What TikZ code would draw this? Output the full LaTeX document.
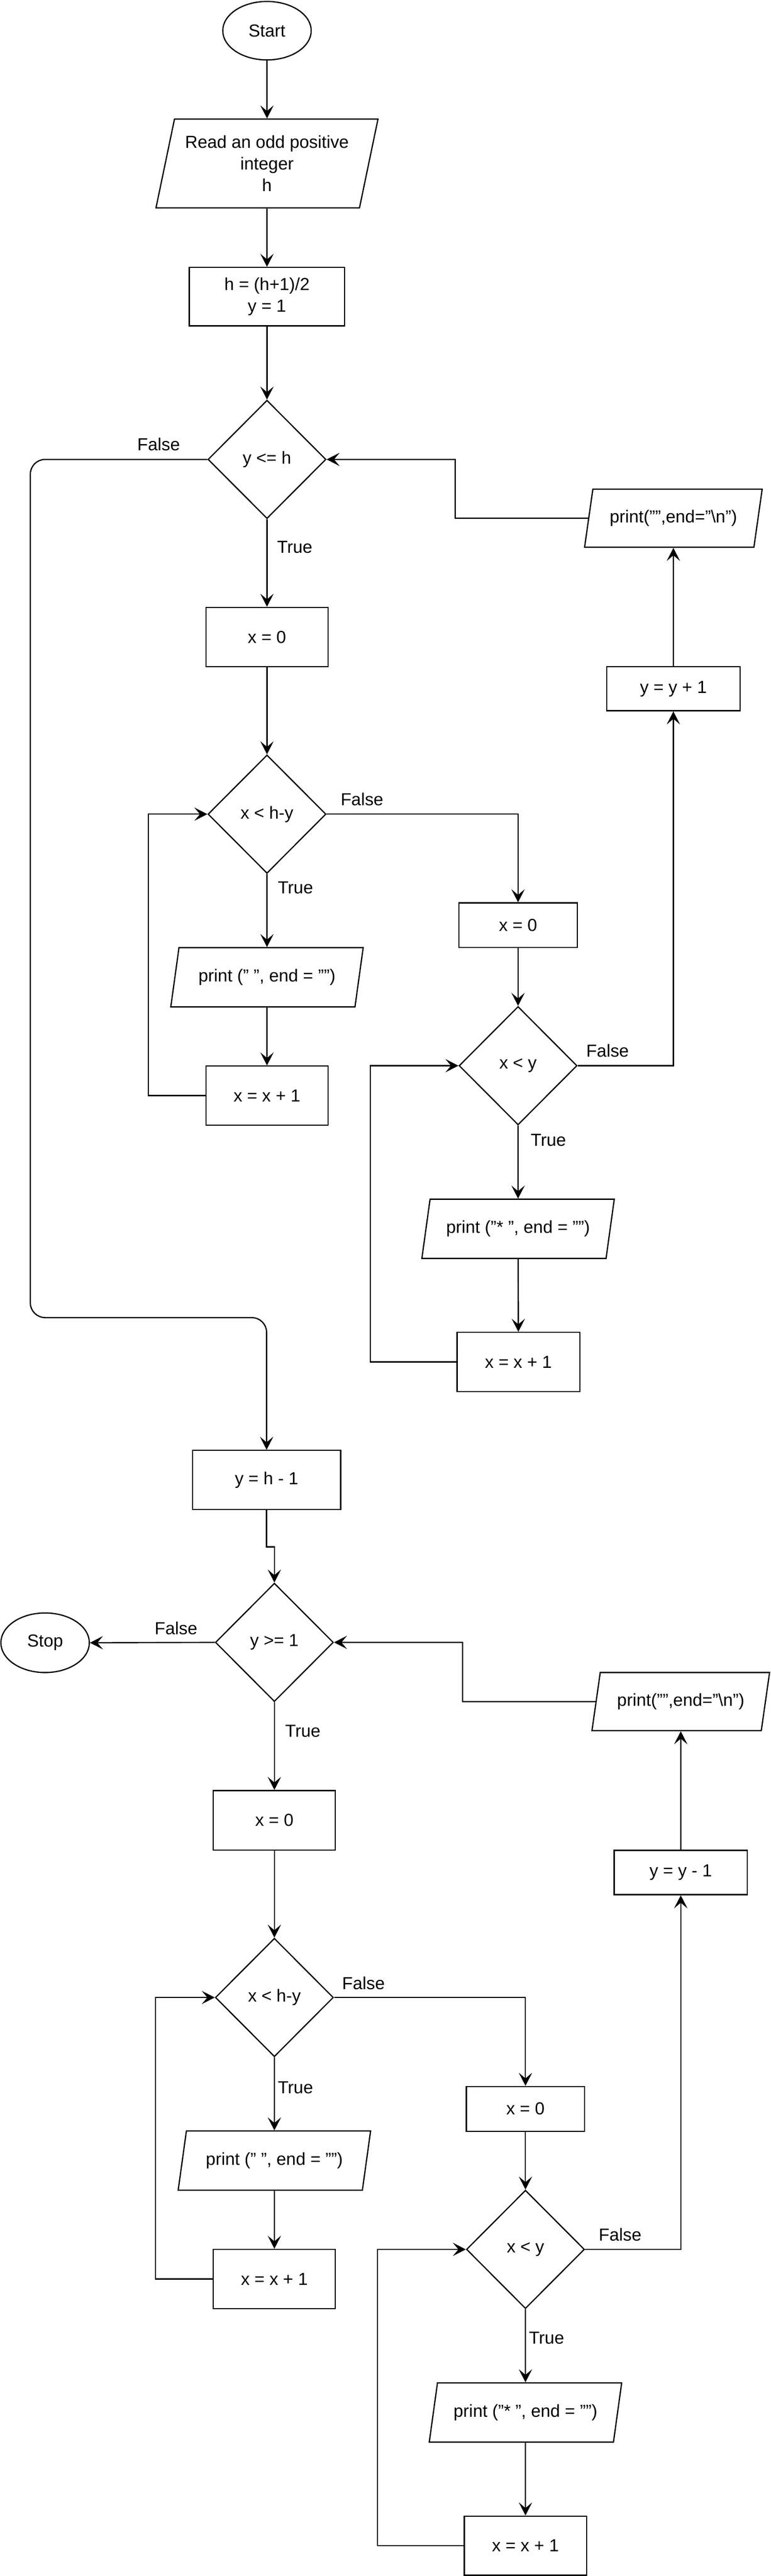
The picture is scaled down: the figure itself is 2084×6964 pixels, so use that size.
\documentclass[tikz,border=0pt]{standalone}
\usepackage{fontspec}
\setmainfont{Liberation Sans}
\usetikzlibrary{shapes.geometric,arrows.meta}
\newcommand{\nodefont}{\fontsize{13.4pt}{16.5pt}\selectfont}
\begin{document}
\begin{tikzpicture}[x=0.01cm, y=-0.01cm,
  base/.style={draw=black, line width=0.95pt, font=\nodefont, inner sep=0pt, align=center},
  term/.style={base, ellipse, minimum width=2.39cm, minimum height=1.58cm},
  proc/.style={base, rectangle},
  dec/.style={base, diamond, aspect=1, minimum width=3.19cm, minimum height=3.20cm},
  io/.style={base, trapezium, trapezium stretches body},
  ioa/.style={io, trapezium left angle=63.2, trapezium right angle=116.8, minimum width=5.20cm, minimum height=1.60cm},
  ionl/.style={io, trapezium left angle=63, trapezium right angle=117, minimum width=4.80cm, minimum height=1.57cm},
  arr/.style={-{Stealth[length=10pt,width=10.2pt,inset=4.3pt]}, line width=0.95pt},
  lbl/.style={font=\nodefont, inner sep=0pt}]
\fill[white] (0,0) rectangle (2084,6964);
\useasboundingbox (0,0) rectangle (2084,6964);

% ---------- upper block ----------
\node[term] (start) at (722,83) {Start};
\node[io, trapezium left angle=71.57, trapezium right angle=108.43, minimum width=6.00cm, minimum height=2.40cm] (read) at (722,442) {Read an odd positive\\integer\\h};
\node[proc, minimum width=4.20cm, minimum height=1.58cm] (init) at (722,802) {h = (h+1)/2\\y = 1};
\node[dec] (d1) at (722,1242) {y <= h};
\node[proc, minimum width=3.30cm, minimum height=1.60cm] (xa) at (722,1722) {x = 0};
\node[dec] (d2) at (722,2201) {x < h-y};
\node[ioa] (p1) at (722,2642) {print (" ", end = "")};
\node[proc, minimum width=3.30cm, minimum height=1.60cm] (inc1) at (722,2962) {x = x + 1};
\node[proc, minimum width=3.20cm, minimum height=1.20cm] (xb) at (1401,2501) {x = 0};
\node[dec] (d3) at (1401,2881) {x < y};
\node[ioa] (p2) at (1401,3322) {print ("* ", end = "")};
\node[proc, minimum width=3.32cm, minimum height=1.60cm] (inc2) at (1402,3682) {x = x + 1};
\node[proc, minimum width=3.60cm, minimum height=1.19cm] (yinc) at (1821,1862) {y = y + 1};
\node[ionl] (pnl1) at (1821,1401) {print("",end="\textbackslash n")};

\node[lbl] (f1) at (429,1201) {False};
\node[lbl] (t1) at (797,1479) {True};
\node[lbl] (f2) at (979,2161) {False};
\node[lbl] (t2) at (799,2400) {True};
\node[lbl] (f3) at (1643,2841) {False};
\node[lbl] (t3) at (1483,3082) {True};

\draw[arr] (start) -- (read);
\draw[arr] (read) -- (init);
\draw[arr] (init) -- (d1);
\draw[arr] (d1) -- (xa);
\draw[arr] (xa) -- (d2);
\draw[arr] (d2) -- (p1);
\draw[arr] (p1) -- (inc1);
\draw[arr] (inc1.west) -- (401,2962) |- (d2.west);
\draw[arr] (d2.east) -| (xb.north);
\draw[arr] (xb) -- (d3);
\draw[arr] (d3) -- (p2);
\draw[arr] (p2) -- (inc2);
\draw[arr] (inc2.west) -- (1001,3682) |- (d3.west);
\draw[arr] (d3.east) -| (yinc.south);
\draw[arr] (yinc) -- (pnl1);
\draw[arr] (pnl1.west) -- (1231,1401) |- (d1.east);

% ---------- lower block ----------
\node[proc, minimum width=4.00cm, minimum height=1.60cm] (yh1) at (721,4001) {y = h - 1};
\draw[arr, rounded corners=0.4cm] (d1.west) -- (82,1242) -- (82,3562) -- (721,3562) -- (yh1.north);

\node[dec] (d4) at (742,4440) {y >= 1};
\node[term, minimum height=1.61cm] (stop) at (122,4441) {Stop};
\node[proc, minimum width=3.30cm, minimum height=1.61cm] (xc) at (742,4921) {x = 0};
\node[dec] (d5) at (742,5400) {x < h-y};
\node[ioa] (p3) at (742,5841) {print (" ", end = "")};
\node[proc, minimum width=3.30cm, minimum height=1.60cm] (inc3) at (742,6161) {x = x + 1};
\node[proc, minimum width=3.20cm, minimum height=1.21cm] (xd) at (1421,5701) {x = 0};
\node[dec] (d6) at (1421,6081) {x < y};
\node[ioa] (p4) at (1421,6522) {print ("* ", end = "")};
\node[proc, minimum width=3.31cm, minimum height=1.60cm] (inc4) at (1421,6882) {x = x + 1};
\node[proc, minimum width=3.60cm, minimum height=1.20cm] (ydec) at (1841,5062) {y = y - 1};
\node[ionl] (pnl2) at (1841,4600) {print("",end="\textbackslash n")};

\node[lbl] (f4) at (476,4402) {False};
\node[lbl] (t4) at (819,4680) {True};
\node[lbl] (f5) at (983,5361) {False};
\node[lbl] (t5) at (799,5643) {True};
\node[lbl] (f6) at (1677,6041) {False};
\node[lbl] (t6) at (1478,6321) {True};

\draw[arr] (yh1.south) -- (721,4182) -| (d4.north);
\draw[arr] (d4.west) -- (stop.east);
\draw[arr] (d4) -- (xc);
\draw[arr] (xc) -- (d5);
\draw[arr] (d5) -- (p3);
\draw[arr] (p3) -- (inc3);
\draw[arr] (inc3.west) -- (421,6161) |- (d5.west);
\draw[arr] (d5.east) -| (xd.north);
\draw[arr] (xd) -- (d6);
\draw[arr] (d6) -- (p4);
\draw[arr] (p4) -- (inc4);
\draw[arr] (inc4.west) -- (1021,6882) |- (d6.west);
\draw[arr] (d6.east) -| (ydec.south);
\draw[arr] (ydec) -- (pnl2);
\draw[arr] (pnl2.west) -- (1251,4600) |- (d4.east);
\end{tikzpicture}
\end{document}
